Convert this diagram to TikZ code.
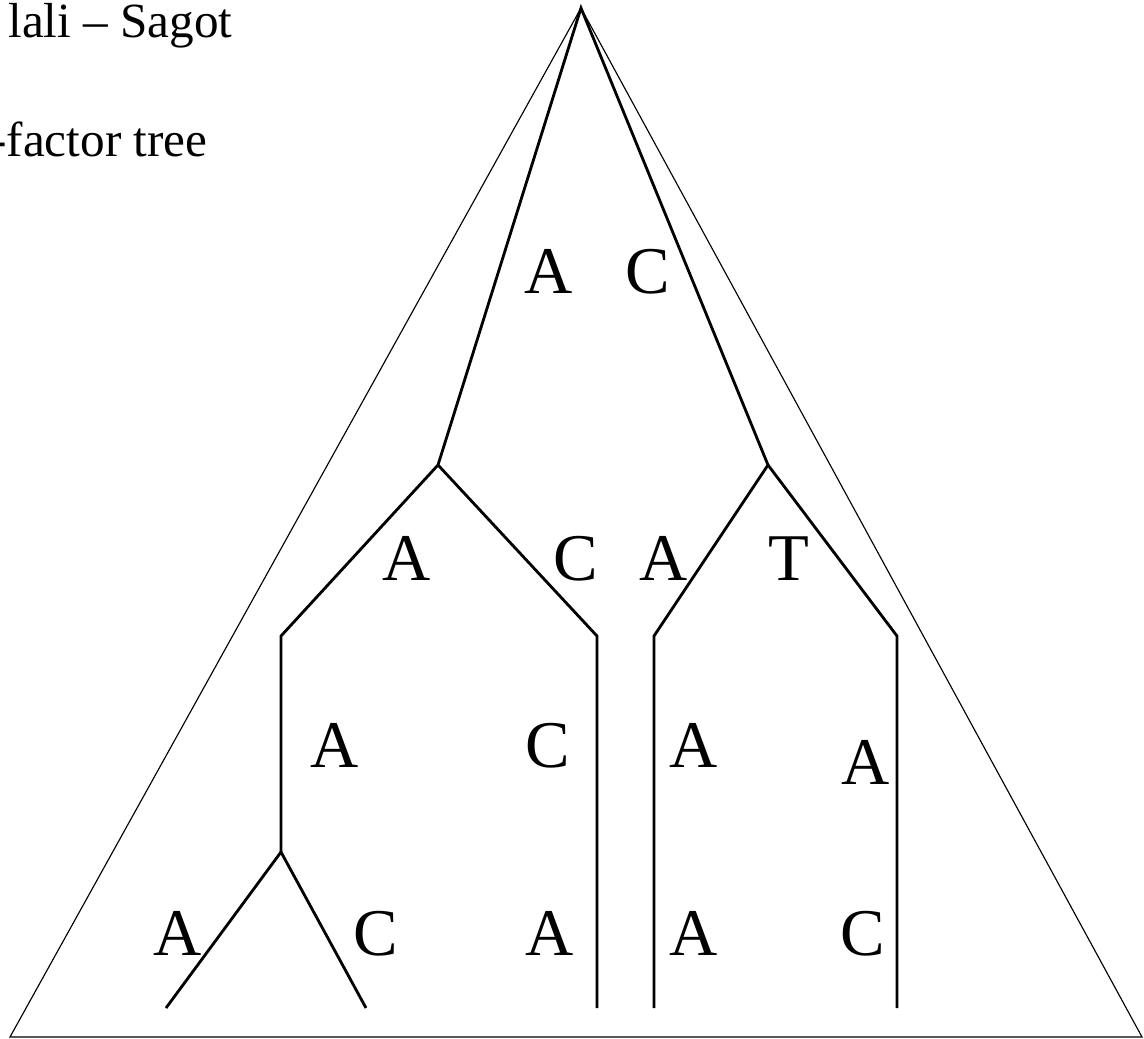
\documentclass[tikz,border=0pt]{standalone}
\usepackage{fontspec}
\setmainfont{Liberation Serif}
\tikzset{
  edge/.style={line width=1.6pt},
  frame/.style={line width=0.65pt},
  letter/.style={font=\fontsize{38}{44}\selectfont, anchor=base, inner sep=0pt},
  title/.style={font=\fontsize{28}{34}\selectfont, anchor=base west, inner sep=0pt}
}
\begin{document}
\begin{tikzpicture}[x=0.02cm,y=-0.02cm]
    \useasboundingbox (0,0) rectangle (1144,1039);
    \node[title] (authors) at (8,37) {lali -- Sagot};
    \node[title] (kind) at (-10,156) {-factor tree};
    \coordinate (top) at (581,8); \coordinate (bl) at (10,1037); \coordinate (br) at (1142,1037);
    \draw[frame] (top) -- (bl) -- (br) -- cycle;
    \coordinate (l) at (438,465); \coordinate (r) at (768,465); \coordinate (ll) at (281,852);
    \coordinate (lb1) at (281,636); \coordinate (lb2) at (597,636);
    \coordinate (rb1) at (654,636); \coordinate (rb2) at (897,636);
    \coordinate (f1) at (166,1008); \coordinate (f2) at (366,1008); \coordinate (f3) at (597,1008);
    \coordinate (f4) at (654,1008); \coordinate (f5) at (897,1008);
    \draw[edge] (l) -- (top) -- (r);
    \draw[edge] (ll) -- (lb1) -- (l) -- (lb2) -- (f3);
    \draw[edge] (f4) -- (rb1) -- (r) -- (rb2) -- (f5);
    \draw[edge] (f1) -- (ll) -- (f2);
    \node[letter] (a1) at (549,293) {A}; \node[letter] (c1) at (648,293) {C};
    \node[letter] (a2) at (407,580) {A}; \node[letter] (c2) at (576,580) {C};
    \node[letter] (a3) at (664,580) {A}; \node[letter] (t3) at (789,580) {T};
    \node[letter] (a4) at (335,767) {A}; \node[letter] (c4) at (548,767) {C};
    \node[letter] (a5) at (694,767) {A}; \node[letter] (a6) at (866,784) {A};
    \node[letter] (a7) at (178,955) {A}; \node[letter] (c7) at (376,955) {C};
    \node[letter] (a8) at (550,955) {A}; \node[letter] (a9) at (694,955) {A};
    \node[letter] (c9) at (863,955) {C};
\end{tikzpicture}
\end{document}
